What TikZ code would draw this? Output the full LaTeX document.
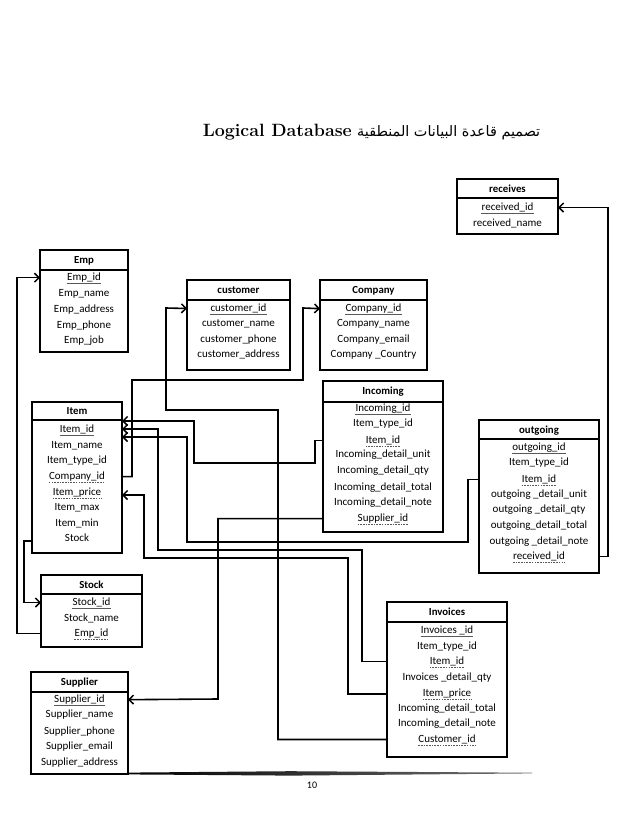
\documentclass[tikz,border=0pt]{standalone}
\usepackage{fontspec}
\newfontfamily\calibrifont{Carlito}
\newfontfamily\arabicfont[Script=Arabic]{DejaVu Sans}
\TeXXeTstate=1
\usetikzlibrary{arrows.meta,calc}
\begin{document}
\begin{tikzpicture}[x=1pt,y=-1pt,
  tbox/.style={draw, line width=1.6pt, inner sep=0pt, outer sep=0pt, anchor=north west},
  hdr/.style={font=\calibrifont\bfseries\fontsize{10.8}{12}\selectfont, inner sep=0pt, anchor=base, yshift=-3.6pt},
  rowtext/.style={font=\calibrifont\fontsize{11}{13}\selectfont, inner sep=0pt, anchor=base, yshift=-3.6pt},
  sep/.style={line width=1.6pt},
  conn/.style={line width=1.6pt},
  arr/.style={-{Straight Barb[length=4.5pt,width=9pt,line width=1.5pt]}},
  ulpk/.style={line width=0.6pt, black!65},
  ulfk/.style={line width=0.6pt, black!65, dash pattern=on 1.6pt off 1.1pt}]
\fill[white] (0,0) rectangle (638,826);
\useasboundingbox (0,0) rectangle (638,826);

% title
\node[anchor=base east, font=\bfseries\fontsize{17.8}{20}\selectfont, inner sep=0pt] (titleen) at (352,137) {Logical Database};
\node[anchor=base west, inner sep=0pt] (titlear) at (357,137) {\resizebox{183pt}{!}{\arabicfont\beginR تصميم قاعدة البيانات المنطقية\endR}};

% receives
\node[tbox, minimum width=101pt, minimum height=55pt] (receives) at (457,179) {};
\draw[sep] (457,198) -- (558,198);
\node[hdr] (receives-h) at (507.5,189) {receives};
\node[rowtext] (rc-id) at (507.5,207) {received\_id};
\node[rowtext] (rc-name) at (507.5,223) {received\_name};
\draw[ulpk] ([yshift=-2.4pt]rc-id.base west) -- ([yshift=-2.4pt]rc-id.base east);

% Emp
\node[tbox, minimum width=88pt, minimum height=102pt] (emp) at (40,250) {};
\draw[sep] (40,270) -- (128,270);
\node[hdr] (emp-h) at (84,260) {Emp};
\node[rowtext] (em-id) at (84,277) {Emp\_id};
\node[rowtext] (em-name) at (84,293) {Emp\_name};
\node[rowtext] (em-addr) at (84,309) {Emp\_address};
\node[rowtext] (em-phone) at (84,325) {Emp\_phone};
\node[rowtext] (em-job) at (84,340) {Emp\_job};
\draw[ulpk] ([yshift=-2.4pt]em-id.base west) -- ([yshift=-2.4pt]em-id.base east);

% customer
\node[tbox, minimum width=103pt, minimum height=90pt] (customer) at (187,280) {};
\draw[sep] (187,300) -- (290,300);
\node[hdr] (customer-h) at (238.5,290) {customer};
\node[rowtext] (cu-id) at (238.5,308) {customer\_id};
\node[rowtext] (cu-name) at (238.5,323) {customer\_name};
\node[rowtext] (cu-phone) at (238.5,339) {customer\_phone};
\node[rowtext] (cu-addr) at (238.5,354) {customer\_address};
\draw[ulpk] ([yshift=-2.4pt]cu-id.base west) -- ([yshift=-2.4pt]cu-id.base east);

% Company
\node[tbox, minimum width=107pt, minimum height=90pt] (company) at (320,280) {};
\draw[sep] (320,300) -- (427,300);
\node[hdr] (company-h) at (373.5,290) {Company};
\node[rowtext] (co-id) at (373.5,308) {Company\_id};
\node[rowtext] (co-name) at (373.5,323) {Company\_name};
\node[rowtext] (co-email) at (373.5,339) {Company\_email};
\node[rowtext] (co-country) at (373.5,354) {Company \_Country};
\draw[ulpk] ([yshift=-2.4pt]co-id.base west) -- ([yshift=-2.4pt]co-id.base east);

% Incoming
\node[tbox, minimum width=120pt, minimum height=151pt] (incoming) at (323,381) {};
\draw[sep] (323,402) -- (443,402);
\node[hdr] (incoming-h) at (383,391) {Incoming};
\node[rowtext] (in-id) at (383,408) {Incoming\_id};
\node[rowtext] (in-type) at (383,423) {Item\_type\_id};
\node[rowtext] (in-item) at (383,440) {Item\_id};
\node[rowtext] (in-unit) at (383,454) {Incoming\_detail\_unit};
\node[rowtext] (in-qty) at (383,470) {Incoming\_detail\_qty};
\node[rowtext] (in-total) at (383,487) {Incoming\_detail\_total};
\node[rowtext] (in-note) at (383,502) {Incoming\_detail\_note};
\node[rowtext] (in-sup) at (383,518) {Supplier\_id};
\draw[ulpk] ([yshift=-2.4pt]in-id.base west) -- ([yshift=-2.4pt]in-id.base east);
\draw[ulfk] ([yshift=-2.4pt]in-item.base west) -- ([yshift=-2.4pt]in-item.base east);
\draw[ulfk] ([yshift=-2.4pt]in-sup.base west) -- ([yshift=-2.4pt]in-sup.base east);

% Item
\node[tbox, minimum width=90pt, minimum height=151pt] (item) at (32,402) {};
\draw[sep] (32,420) -- (122,420);
\node[hdr] (item-h) at (77,411) {Item};
\node[rowtext] (it-id) at (77,429) {Item\_id};
\node[rowtext] (it-name) at (77,445) {Item\_name};
\node[rowtext] (it-type) at (77,460) {Item\_type\_id};
\node[rowtext] (it-comp) at (77,476) {Company\_id};
\node[rowtext] (it-price) at (77,492) {Item\_price};
\node[rowtext] (it-max) at (77,507) {Item\_max};
\node[rowtext] (it-min) at (77,523) {Item\_min};
\node[rowtext] (it-stock) at (77,538) {Stock};
\draw[ulpk] ([yshift=-2.4pt]it-id.base west) -- ([yshift=-2.4pt]it-id.base east);
\draw[ulfk] ([yshift=-2.4pt]it-comp.base west) -- ([yshift=-2.4pt]it-comp.base east);
\draw[ulfk] ([yshift=-2.4pt]it-price.base west) -- ([yshift=-2.4pt]it-price.base east);
\coordinate (it-a1) at (122,421);
\coordinate (it-a2) at (122,429);
\coordinate (it-a3) at (122,437);
\coordinate (it-ap) at (122,495);
\coordinate (it-sx) at (32,541);

% outgoing
\node[tbox, minimum width=120pt, minimum height=153pt] (outgoing) at (479,420) {};
\draw[sep] (479,439) -- (599,439);
\node[hdr] (outgoing-h) at (539,429.5) {outgoing};
\node[rowtext] (og-id) at (539,447) {outgoing\_id};
\node[rowtext] (og-type) at (539,462) {Item\_type\_id};
\node[rowtext] (og-item) at (539,479) {Item\_id};
\node[rowtext] (og-unit) at (539,494) {outgoing \_detail\_unit};
\node[rowtext] (og-qty) at (539,509) {outgoing \_detail\_qty};
\node[rowtext] (og-total) at (539,525) {outgoing\_detail\_total};
\node[rowtext] (og-note) at (539,541) {outgoing \_detail\_note};
\node[rowtext] (og-rec) at (539,556) {received\_id};
\draw[ulpk] ([yshift=-2.4pt]og-id.base west) -- ([yshift=-2.4pt]og-id.base east);
\draw[ulfk] ([yshift=-2.4pt]og-item.base west) -- ([yshift=-2.4pt]og-item.base east);
\draw[ulfk] ([yshift=-2.4pt]og-rec.base west) -- ([yshift=-2.4pt]og-rec.base east);

% Stock
\node[tbox, minimum width=101pt, minimum height=72pt] (stock) at (41,575) {};
\draw[sep] (41,594) -- (142,594);
\node[hdr] (stock-h) at (91.5,584.5) {Stock};
\node[rowtext] (st-id) at (91.5,602) {Stock\_id};
\node[rowtext] (st-name) at (91.5,618) {Stock\_name};
\node[rowtext] (st-emp) at (91.5,633) {Emp\_id};
\draw[ulpk] ([yshift=-2.4pt]st-id.base west) -- ([yshift=-2.4pt]st-id.base east);
\draw[ulfk] ([yshift=-2.4pt]st-emp.base west) -- ([yshift=-2.4pt]st-emp.base east);

% Supplier
\node[tbox, minimum width=97pt, minimum height=102pt] (supplier) at (31,672) {};
\draw[sep] (31,692) -- (128,692);
\node[hdr] (supplier-h) at (79.5,682) {Supplier};
\node[rowtext] (sp-id) at (79.5,699) {Supplier\_id};
\node[rowtext] (sp-name) at (79.5,714) {Supplier\_name};
\node[rowtext] (sp-phone) at (79.5,731) {Supplier\_phone};
\node[rowtext] (sp-email) at (79.5,746) {Supplier\_email};
\node[rowtext] (sp-addr) at (79.5,762) {Supplier\_address};
\draw[ulpk] ([yshift=-2.4pt]sp-id.base west) -- ([yshift=-2.4pt]sp-id.base east);

% Invoices
\node[tbox, minimum width=120pt, minimum height=155pt] (invoices) at (387,602) {};
\draw[sep] (387,622) -- (507,622);
\node[hdr] (invoices-h) at (447,612) {Invoices};
\node[rowtext] (iv-id) at (447,630) {Invoices \_id};
\node[rowtext] (iv-type) at (447,646) {Item\_type\_id};
\node[rowtext] (iv-item) at (447,661) {Item\_id};
\node[rowtext] (iv-qty) at (447,677) {Invoices \_detail\_qty};
\node[rowtext] (iv-price) at (447,693) {Item\_price};
\node[rowtext] (iv-total) at (447,708) {Incoming\_detail\_total};
\node[rowtext] (iv-note) at (447,723) {Incoming\_detail\_note};
\node[rowtext] (iv-cust) at (447,739) {Customer\_id};
\draw[ulpk] ([yshift=-2.4pt]iv-id.base west) -- ([yshift=-2.4pt]iv-id.base east);
\draw[ulfk] ([yshift=-2.4pt]iv-item.base west) -- ([yshift=-2.4pt]iv-item.base east);
\draw[ulfk] ([yshift=-2.4pt]iv-price.base west) -- ([yshift=-2.4pt]iv-price.base east);
\draw[ulfk] ([yshift=-2.4pt]iv-cust.base west) -- ([yshift=-2.4pt]iv-cust.base east);

% connectors
\draw[conn,arr] (og-rec -| outgoing.east) -- ++(9,0) |- (rc-id -| receives.east);
\draw[conn,arr] (st-emp -| stock.west) -- ++(-24,0) |- (em-id -| emp.west);
\draw[conn,arr] (it-sx) -- ++(-8,0) |- (st-id -| stock.west);
\draw[conn,arr] (iv-cust -| invoices.west) -| (278,410) -| (166,308) -- (cu-id -| customer.west);
\draw[conn,arr] (it-comp -| item.east) -| (132,380) -| (303,308) -- (co-id -| company.west);
\draw[conn,arr] (in-item -| incoming.west) -| (315,463) -| (194,421) -- (it-a1);
\draw[conn,arr] (iv-item -| invoices.west) -| (362,550) -| (158,429) -- (it-a2);
\draw[conn,arr] (og-item -| outgoing.west) -| (468,542) -| (187,437) -- (it-a3);
\draw[conn,arr] (iv-price -| invoices.west) -| (348,558) -| (144,495) -- (it-ap);
\draw[conn,arr] (in-sup -| incoming.west) -| (218,699) -- (sp-id -| supplier.east);

% footer
\shade[left color=black, right color=black!55] (128,772.6) -- (290,771.2) -- (532,772.7) -- (532,773.4) -- (290,775.6) -- (128,774.4) -- cycle;
\node[font=\calibrifont\fontsize{10}{12}\selectfont, inner sep=0pt] (pagenum) at (312,785) {10};
\end{tikzpicture}
\end{document}
